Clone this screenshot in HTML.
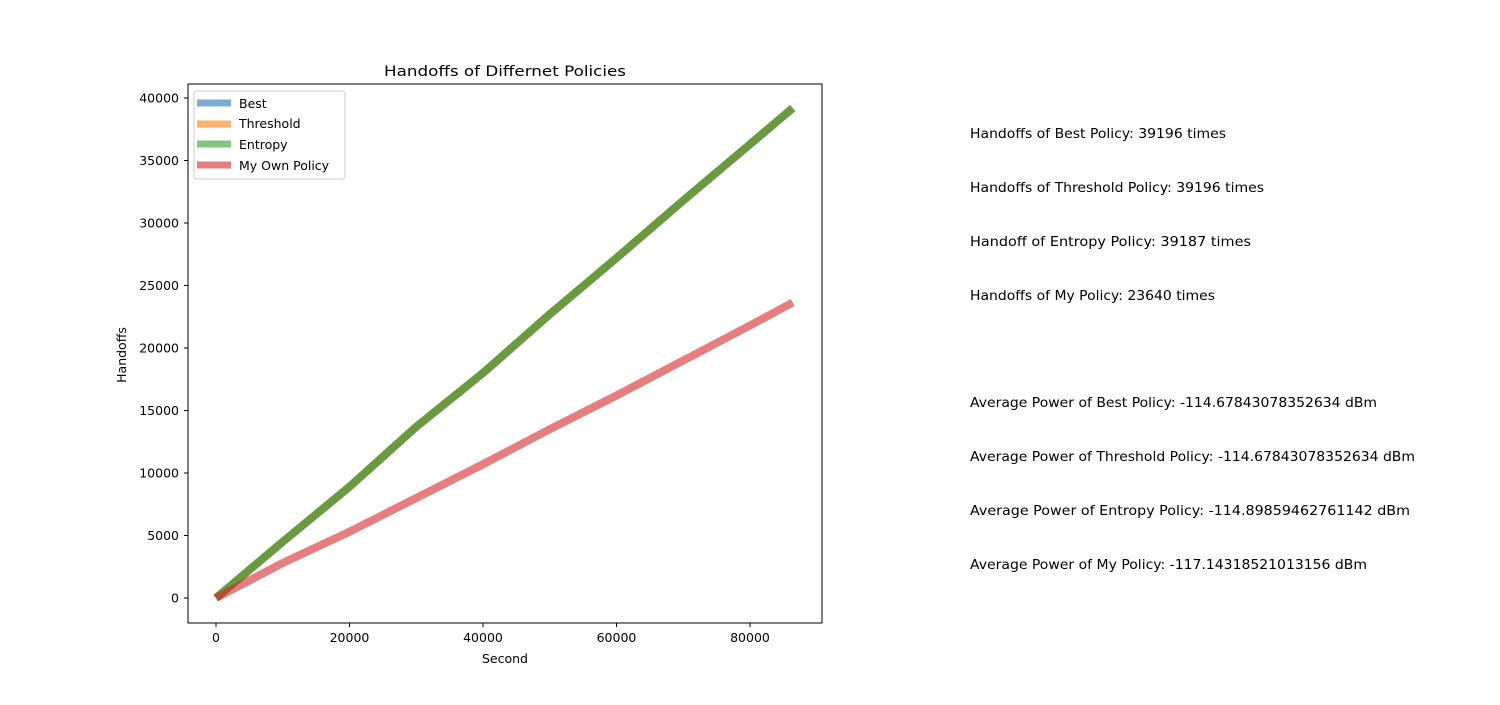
<!DOCTYPE html>
<html><head><meta charset="utf-8"><style>
body{margin:0;background:#fff;font-family:"Liberation Sans","DejaVu Sans",sans-serif;}
svg text{font-family:"DejaVu Sans","Liberation Sans",sans-serif;}
</style></head><body>
<svg id="chart" width="1500" height="700" xmlns="http://www.w3.org/2000/svg">
<rect width="1500" height="700" fill="#fff"/>
<text x="505" y="76" font-size="14.5" text-anchor="middle" textLength="242" lengthAdjust="spacingAndGlyphs">Handoffs of Differnet Policies</text>
<g id="plot"></g>
<rect x="188" y="84" width="634" height="539" fill="none" stroke="#000" stroke-width="1"/>
<g id="xt"></g>
<g id="yt"></g>
<text x="505" y="663" font-size="12.5" text-anchor="middle">Second</text>
<text x="126" y="355" font-size="12.5" text-anchor="middle" transform="rotate(-90 126 355)">Handoffs</text>
<g>
<rect x="194" y="91" width="151" height="88" rx="3" fill="#fff" fill-opacity="0.8" stroke="#ccc"/>
<line x1="197" y1="103" x2="231" y2="103" stroke="#1f77b4" stroke-opacity="0.6" stroke-width="7"/>
<text x="239" y="108" font-size="12.5">Best</text>
<line x1="197" y1="124" x2="231" y2="124" stroke="#ff7f0e" stroke-opacity="0.6" stroke-width="7"/>
<text x="239" y="128" font-size="12.5">Threshold</text>
<line x1="197" y1="144" x2="231" y2="144" stroke="#2ca02c" stroke-opacity="0.6" stroke-width="7"/>
<text x="239" y="149" font-size="12.5">Entropy</text>
<line x1="197" y1="165" x2="231" y2="165" stroke="#d62728" stroke-opacity="0.6" stroke-width="7"/>
<text x="239" y="170" font-size="12.5">My Own Policy</text>
</g>
<g font-size="13.5">
<text x="970" y="138" textLength="256" lengthAdjust="spacingAndGlyphs">Handoffs of Best Policy: 39196 times</text>
<text x="970" y="192" textLength="294" lengthAdjust="spacingAndGlyphs">Handoffs of Threshold Policy: 39196 times</text>
<text x="970" y="246" textLength="281" lengthAdjust="spacingAndGlyphs">Handoff of Entropy Policy: 39187 times</text>
<text x="970" y="300" textLength="245" lengthAdjust="spacingAndGlyphs">Handoffs of My Policy: 23640 times</text>
<text x="970" y="407" textLength="407" lengthAdjust="spacingAndGlyphs">Average Power of Best Policy: -114.67843078352634 dBm</text>
<text x="970" y="461" textLength="445" lengthAdjust="spacingAndGlyphs">Average Power of Threshold Policy: -114.67843078352634 dBm</text>
<text x="970" y="515" textLength="440" lengthAdjust="spacingAndGlyphs">Average Power of Entropy Policy: -114.89859462761142 dBm</text>
<text x="970" y="569" textLength="397" lengthAdjust="spacingAndGlyphs">Average Power of My Policy: -117.14318521013156 dBm</text>
</g>
</svg>
<script>
const xTicks=[0,20000,40000,60000,80000];
const yTicks=[0,5000,10000,15000,20000,25000,30000,35000,40000];
const times=[0,10000,20000,30000,40000,50000,60000,70000,80000,86400];
const bestVals=[0,4500,8900,13700,18000,22700,27200,31800,36300,39196];
const thresholdVals=[0,4500,8900,13700,18000,22700,27200,31800,36300,39196];
const entropyVals=[0,4500,8900,13700,18000,22700,27200,31800,36300,39187];
const myVals=[0,2800,5300,8000,10700,13500,16200,19000,21800,23640];
const ns="http://www.w3.org/2000/svg";
const X=v=>216+v*(133.5/20000);
const Y=v=>598-v*(12.5/1000);
const plot=document.getElementById('plot');
function line(vals,color,name){
 const p=document.createElementNS(ns,'polyline');
 p.setAttribute('points',times.map((t,i)=>X(t)+','+Y(vals[i])).join(' '));
 p.setAttribute('fill','none');p.setAttribute('stroke',color);
 p.setAttribute('stroke-opacity','0.6');p.setAttribute('stroke-width','8');
 
 
 plot.appendChild(p);
}
line(bestVals,'#1f77b4','line-best');
line(thresholdVals,'#ff7f0e','line-threshold');
line(entropyVals,'#2ca02c','line-entropy');
line(myVals,'#d62728','line-my-policy');
const xt=document.getElementById('xt'),yt=document.getElementById('yt');
xTicks.forEach(v=>{
 const l=document.createElementNS(ns,'line');
 l.setAttribute('x1',X(v));l.setAttribute('x2',X(v));l.setAttribute('y1',623);l.setAttribute('y2',627);l.setAttribute('stroke','#000');
 
 
 xt.appendChild(l);
 const t=document.createElementNS(ns,'text');
 t.setAttribute('x',X(v));t.setAttribute('y',642);t.setAttribute('font-size','12.5');t.setAttribute('text-anchor','middle');
 t.textContent=v;
 
 
 xt.appendChild(t);
});
yTicks.forEach(v=>{
 const l=document.createElementNS(ns,'line');
 l.setAttribute('x1',184);l.setAttribute('x2',188);l.setAttribute('y1',Y(v));l.setAttribute('y2',Y(v));l.setAttribute('stroke','#000');
 
 
 yt.appendChild(l);
 const t=document.createElementNS(ns,'text');
 t.setAttribute('x',179);t.setAttribute('y',Y(v)+4.5);t.setAttribute('font-size','12.5');t.setAttribute('text-anchor','end');
 t.textContent=v;
 
 
 yt.appendChild(t);
});
</script>
</body></html>
